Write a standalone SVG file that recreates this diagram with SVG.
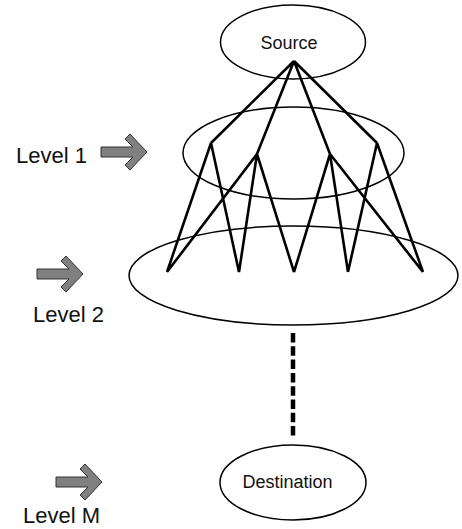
<svg xmlns="http://www.w3.org/2000/svg" width="462" height="529" viewBox="0 0 462 529">
<style>
.ell{fill:none;stroke:#000;stroke-width:1.5}
.lbl{font-family:"Liberation Sans",Arial,sans-serif;font-size:18px;fill:#111}
.lvl{font-family:"Liberation Sans",Arial,sans-serif;font-size:22px;fill:#111}
.arr{fill:#808080;stroke:#333;stroke-width:1}
.edge{stroke:#000;stroke-width:2.6;fill:none;stroke-linejoin:round}
</style>
<defs>
<path id="barrow" d="M-46,-5 L-14,-5 L-22,-13 L-17,-18 L0,0 L-17,18 L-22,13 L-14,5 L-46,5 Z"/>
</defs>
<rect width="462" height="529" fill="#fff"/>
<g id="level2">
<ellipse class="ell" cx="293.5" cy="275.5" rx="164.5" ry="49.5"/>
</g>
<g id="level1">
<ellipse class="ell" cx="293.5" cy="153" rx="110.5" ry="46"/>
</g>
<g id="source">
<ellipse class="ell" cx="293" cy="42" rx="72.5" ry="37"/>
<text class="lbl" x="289" y="49" text-anchor="middle">Source</text>
</g>
<g id="destination">
<ellipse class="ell" cx="293" cy="482.5" rx="73" ry="37.5"/>
<text class="lbl" x="287.5" y="488" text-anchor="middle">Destination</text>
</g>
<g id="connectors">
<path class="edge" d="M294,61 L211,143 M294,61 L257,154 M294,61 L330,154 M294,61 L377,143
M211,143 L167,272 M211,143 L239,272
M257,154 L167,272 M257,154 L239,272 M257,154 L294,272
M330,154 L294,272 M330,154 L348,272 M330,154 L423,272
M377,143 L348,272 M377,143 L423,272"/>
<line x1="293" y1="333" x2="293" y2="436" stroke="#000" stroke-width="4.5" stroke-dasharray="9.5 3.8"/>
</g>
<g id="label-level1">
<text class="lvl" x="16" y="163">Level 1</text>
<use href="#barrow" class="arr" transform="translate(147,152)"/>
</g>
<g id="label-level2">
<use href="#barrow" class="arr" transform="translate(83,274)"/>
<text class="lvl" x="33" y="322">Level 2</text>
</g>
<g id="label-levelM">
<use href="#barrow" class="arr" transform="translate(102,482)"/>
<text class="lvl" x="23" y="523">Level M</text>
</g>
</svg>
